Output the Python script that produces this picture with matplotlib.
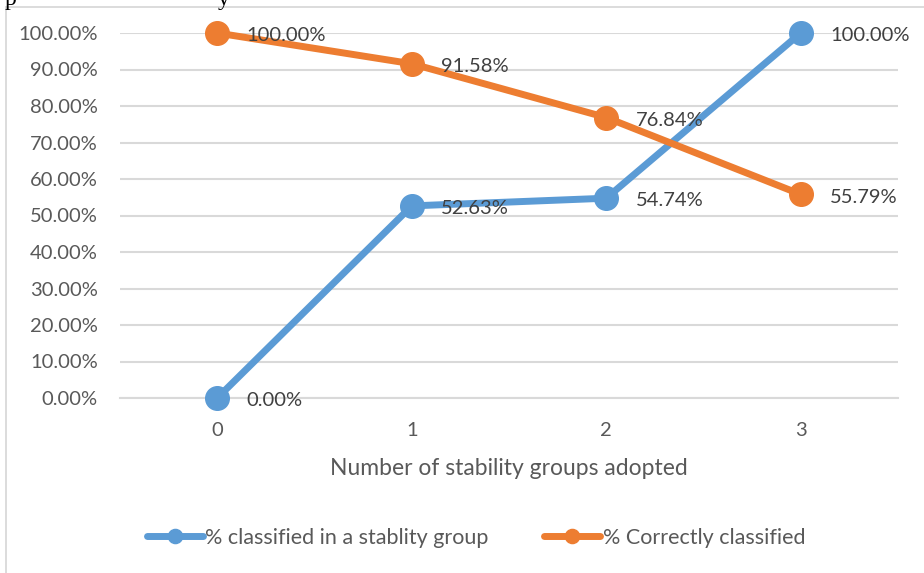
import matplotlib
matplotlib.use("Agg")
import matplotlib.pyplot as plt
from matplotlib.patches import Rectangle
from matplotlib.ticker import PercentFormatter

categories = ["0", "1", "2", "3"]
classified = [0.0, 52.63, 54.74, 100.0]
correct = [100.0, 91.58, 76.84, 55.79]
series_names = ["% classified in a stablity group", "% Correctly classified"]
y_ticks = [0, 10, 20, 30, 40, 50, 60, 70, 80, 90, 100]
x_label = "Number of stability groups adopted"

BLUE = "#5B9BD5"
ORANGE = "#ED7D31"
GRID = "#D9D9D9"
TICK = "#595959"
LABEL = "#404040"

plt.rcParams["font.family"] = ["Lato", "DejaVu Sans"]

W, H = 924, 573
fig = plt.figure(figsize=(W / 100, H / 100), dpi=100)

# chart frame (partially cropped)
fig.patches.append(Rectangle((6 / W, -0.05), 1.1, 1 - 7 / H + 0.05,
                             transform=fig.transFigure, fill=False,
                             edgecolor=GRID, linewidth=1.3))
# fragments of surrounding document text at the very top
fig.text(5 / W, 1 - 5 / H, "p", family="Liberation Serif", fontsize=17,
         va="baseline", ha="left", color="black")
fig.text(218 / W, 1 - 5 / H, "y", family="Liberation Serif", fontsize=17,
         va="baseline", ha="left", color="black")

ax = fig.add_axes([120 / W, 1 - 398 / H, (898 - 120) / W, (398 - 33) / H])
x = list(range(len(categories)))

ax.plot(x, classified, color=BLUE, lw=5, marker="o", ms=17,
        solid_capstyle="round", clip_on=False, zorder=3, label=series_names[0])
ax.plot(x, correct, color=ORANGE, lw=5, marker="o", ms=17,
        solid_capstyle="round", clip_on=False, zorder=4, label=series_names[1])

for xs, ys in ((x, classified), (x, correct)):
    for xi, yi in zip(xs, ys):
        ax.annotate(f"{yi:.2f}%", (xi, yi), xytext=(21, -2),
                    textcoords="offset points", ha="left", va="center",
                    fontsize=14.5, color=LABEL, zorder=6)

ax.set_xlim(-0.5, 3.5)
ax.set_ylim(0, 100)
ax.set_xticks(x)
ax.set_xticklabels(categories)
ax.set_yticks(y_ticks)
ax.yaxis.set_major_formatter(PercentFormatter(decimals=2))
ax.grid(axis="y", color=GRID, lw=1.5)
ax.set_axisbelow(True)
for s in ("top", "right", "left"):
    ax.spines[s].set_visible(False)
ax.spines["bottom"].set_color(GRID)
ax.spines["bottom"].set_linewidth(1.5)
ax.tick_params(axis="both", length=0, labelsize=14.5, colors=TICK)
ax.tick_params(axis="y", pad=16)
ax.tick_params(axis="x", pad=17)
ax.set_xlabel(x_label, fontsize=16.5, color=TICK, labelpad=14)

leg = fig.legend(loc="center", bbox_to_anchor=(476 / W, 1 - 538 / H), ncol=2,
                 frameon=False, fontsize=15.5, handlelength=2.6,
                 handletextpad=0.1, columnspacing=2.6, markerscale=0.6)
for t in leg.get_texts():
    t.set_color(TICK)
for h in leg.legend_handles:
    h.set_linewidth(5)

fig.savefig("out.png", dpi=100)
